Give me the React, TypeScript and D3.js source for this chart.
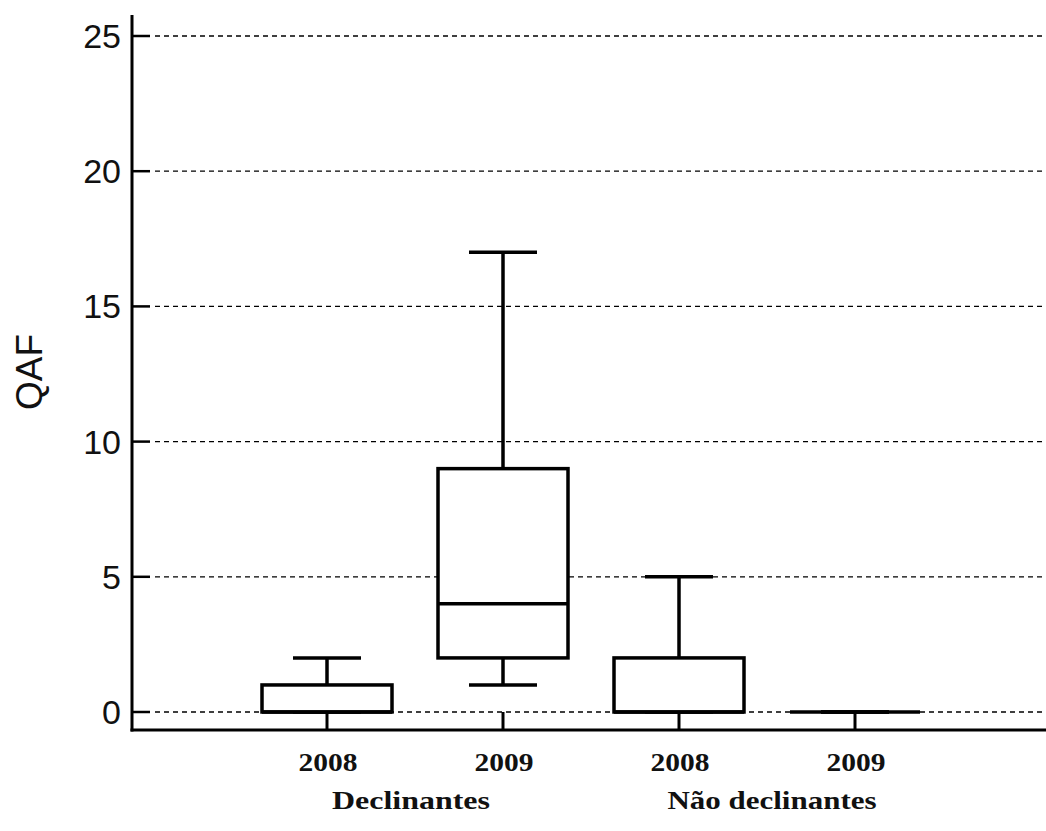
import React from "react";
import * as d3 from "d3";

const categories = ["2008", "2009", "2008", "2009"];
const groups = ["Declinantes", "Não declinantes"];
const whiskerLow = [0, 1, 0, 0];
const q1 = [0, 2, 0, 0];
const medians = [0, 4, 0, 0];
const q3 = [1, 9, 2, 0];
const whiskerHigh = [2, 17, 5, 0];
const yTicks = [0, 5, 10, 15, 20, 25];
const yLabel = "QAF";

export default function App() {
  const W = 1046;
  const H = 831;
  const axisX = 132;
  const axisY = 730;
  const y = d3.scaleLinear().domain([0, 25]).range([712, 36]);
  const x = d3
    .scalePoint<number>()
    .domain(categories.map((_, i) => i))
    .range([327, 855]);
  const boxW = 130;
  const capW = 68;
  const serif = "'Liberation Serif', 'Times New Roman', serif";
  const sans = "'Liberation Sans', Arial, sans-serif";

  return (
    <svg
      width={W}
      height={H}
      style={{ position: "absolute", left: 0, top: 0, background: "#fff" }}
    >
      {/* gridlines */}
      {yTicks.map((t) => (
        <line
          key={"g" + t}
          x1={155}
          x2={1043}
          y1={y(t)}
          y2={y(t)}
          stroke="#000"
          strokeWidth={1.3}
          strokeDasharray="5 4"
        />
      ))}
      {/* y ticks and labels */}
      {yTicks.map((t) => (
        <g key={"t" + t}>
          <line x1={axisX} x2={150} y1={y(t)} y2={y(t)} stroke="#000" strokeWidth={2.5} />
          <text
            x={121}
            y={y(t) + 12}
            textAnchor="end"
            fontFamily={sans}
            fontSize={34}
            fill="#111"
          >
            {t}
          </text>
        </g>
      ))}
      <text
        transform={`translate(42,372) rotate(-90)`}
        textAnchor="middle"
        fontFamily={sans}
        fontSize={37}
        fill="#111"
      >
        {yLabel}
      </text>
      {/* x ticks */}
      {categories.map((_, i) => (
        <line
          key={"xt" + i}
          x1={x(i)}
          x2={x(i)}
          y1={axisY}
          y2={712}
          stroke="#000"
          strokeWidth={3}
        />
      ))}
      {/* boxes */}
      {categories.map((_, i) => {
        const cx = x(i) as number;
        return (
          <g key={"b" + i} stroke="#000" strokeWidth={3.5}>
            <line x1={cx} x2={cx} y1={y(q3[i])} y2={y(whiskerHigh[i])} />
            <line x1={cx} x2={cx} y1={y(q1[i])} y2={y(whiskerLow[i])} />
            <line x1={cx - capW / 2} x2={cx + capW / 2} y1={y(whiskerHigh[i])} y2={y(whiskerHigh[i])} />
            <line x1={cx - capW / 2} x2={cx + capW / 2} y1={y(whiskerLow[i])} y2={y(whiskerLow[i])} />
            <rect
              x={cx - boxW / 2}
              y={y(q3[i])}
              width={boxW}
              height={Math.max(0, y(q1[i]) - y(q3[i]))}
              fill="#fff"
            />
            <line x1={cx - boxW / 2} x2={cx + boxW / 2} y1={y(medians[i])} y2={y(medians[i])} />
          </g>
        );
      })}
      {/* axes */}
      <line x1={axisX} x2={axisX} y1={15} y2={axisY + 1.5} stroke="#000" strokeWidth={3} />
      <line x1={axisX - 1.5} x2={W} y1={axisY} y2={axisY} stroke="#000" strokeWidth={3} />
      {/* x labels */}
      {categories.map((c, i) => (
        <text
          key={"xl" + i}
          x={(x(i) as number) + 1}
          y={771}
          textAnchor="middle"
          fontFamily={serif}
          fontWeight="bold"
          fontSize={25}
          textLength={59}
          lengthAdjust="spacingAndGlyphs"
          fill="#111"
        >
          {c}
        </text>
      ))}
      {groups.map((g, gi) => {
        const cx = ((x(gi * 2) as number) + (x(gi * 2 + 1) as number)) / 2;
        return (
          <text
            key={"gl" + gi}
            x={cx + (gi === 0 ? -4 : 5)}
            y={809}
            textAnchor="middle"
            fontFamily={serif}
            fontWeight="bold"
            fontSize={25}
            textLength={gi === 0 ? 158 : 209}
            lengthAdjust="spacingAndGlyphs"
            fill="#111"
          >
            {g}
          </text>
        );
      })}
    </svg>
  );
}
